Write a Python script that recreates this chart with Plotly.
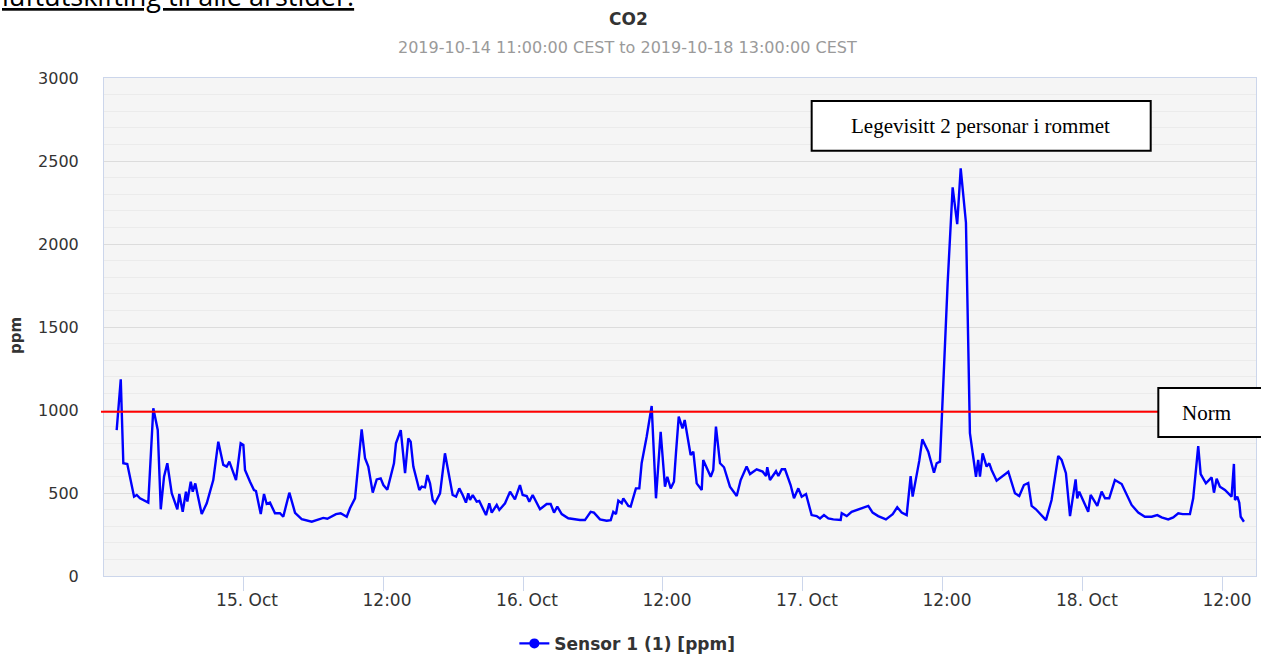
import pandas as pd
import plotly.graph_objects as go

# CO2 readings, hours counted from 2019-10-14 00:00
hours = [13.17, 13.52, 13.74, 14.08, 14.66, 14.89, 15.17, 15.88, 16.31, 16.69, 16.95, 17.23, 17.51, 17.89,
         18.37, 18.54, 18.83, 19.11, 19.23, 19.52, 19.69, 19.91, 20.08, 20.46, 20.89, 21.45, 21.88, 22.31,
         22.60, 22.83, 23.40, 23.80, 24.03, 24.17, 24.60, 24.94, 25.11, 25.52, 25.80, 26.03, 26.31, 26.74,
         27.17, 27.45, 27.97, 28.46, 29.03, 29.89, 30.88, 31.23, 31.97, 32.37, 32.89, 33.17, 33.60, 34.17,
         34.46, 34.74, 35.12, 35.46, 35.80, 36.03, 36.37, 36.75, 36.94, 37.11, 37.52, 37.89, 38.17, 38.37,
         38.60, 39.11, 39.32, 39.60, 39.80, 40.03, 40.26, 40.46, 40.89, 41.31, 41.60, 41.97, 42.26, 42.54,
         42.83, 43.11, 43.31, 43.46, 43.69, 44.03, 44.25, 44.83, 45.11, 45.32, 45.75, 45.97, 46.46, 46.89,
         47.31, 47.74, 47.97, 48.32, 48.54, 48.83, 49.46, 50.03, 50.37, 50.66, 50.94, 51.32, 51.88, 52.88,
         53.31, 53.80, 54.08, 54.60, 55.17, 55.52, 55.74, 55.97, 56.17, 56.46, 56.60, 57.03, 57.23, 57.68,
         57.97, 58.17, 58.60, 59.03, 59.40, 59.80, 60.17, 60.37, 60.66, 60.94, 61.11, 61.35, 61.67, 61.86,
         62.37, 62.60, 62.89, 63.32, 63.45, 64.09, 64.31, 64.54, 64.89, 65.23, 65.74, 66.32, 66.66, 67.17,
         67.46, 68.03, 68.54, 68.83, 68.94, 69.17, 69.69, 69.89, 70.18, 70.46, 70.94, 71.23, 71.60, 71.89,
         72.26, 72.74, 73.17, 73.46, 73.80, 74.17, 74.60, 75.23, 75.32, 75.75, 76.17, 76.82, 77.60, 77.97,
         78.45, 79.11, 79.69, 80.08, 80.46, 80.89, 81.23, 81.40, 81.69, 81.97, 82.23, 82.46, 82.74, 83.23,
         83.46, 83.74, 84.40, 84.83, 85.22, 85.52, 85.97, 86.31, 86.83, 87.02, 87.17, 87.40, 87.74, 87.97,
         88.17, 88.60, 89.60, 90.17, 90.54, 90.94, 91.31, 91.60, 91.97, 92.83, 93.31, 93.88, 94.17, 94.54,
         94.89, 95.37, 95.51, 95.68, 96.08, 96.45, 96.66, 97.03, 97.23, 97.60, 97.89, 98.25, 98.74, 99.32,
         99.75, 100.17, 100.74, 101.31, 101.89, 102.37, 102.74, 103.31, 103.74, 104.17, 104.55, 105.17,
         105.45, 105.88, 106.09, 106.54, 107.03, 107.23, 107.46, 107.74, 108.17, 108.74, 108.94, 109.03,
         109.23, 109.40, 109.52, 109.80]

ppm = [879, 1185, 679, 675, 478, 488, 468, 442, 1010, 880, 402, 598, 679, 498,
       402, 494, 387, 508, 448, 568, 508, 558, 498, 373, 438, 578, 809, 669,
       659, 689, 578, 799, 789, 639, 568, 518, 512, 373, 494, 434, 442, 378,
       378, 357, 502, 381, 343, 327, 350, 345, 373, 378, 357, 408, 468, 883,
       709, 659, 502, 582, 588, 548, 520, 639, 679, 799, 879, 619, 829, 809,
       659, 518, 538, 534, 608, 558, 458, 438, 498, 739, 619, 488, 478, 528,
       488, 442, 498, 458, 488, 448, 452, 367, 438, 382, 428, 398, 438, 508,
       462, 548, 488, 482, 448, 488, 402, 434, 434, 382, 418, 373, 348, 337,
       337, 387, 382, 341, 333, 337, 387, 373, 454, 438, 468, 422, 418, 528,
       528, 679, 839, 1024, 468, 869, 538, 598, 528, 568, 739, 960, 889, 940,
       729, 749, 558, 518, 699, 598, 639, 900, 679, 655, 538, 482, 578, 659,
       614, 643, 629, 602, 655, 578, 631, 602, 643, 643, 548, 468, 528, 478,
       494, 367, 361, 347, 367, 347, 341, 337, 378, 361, 387, 402, 422, 382,
       361, 341, 373, 414, 382, 367, 602, 478, 590, 695, 823, 787, 749, 622,
       679, 689, 1763, 2341, 2120, 2456, 2128, 860, 598, 699, 598, 739, 659, 679,
       639, 574, 628, 498, 482, 548, 560, 422, 402, 337, 458, 723, 699, 619,
       361, 582, 468, 508, 448, 387, 488, 448, 422, 508, 468, 468, 578, 554,
       488, 428, 382, 357, 357, 367, 353, 341, 353, 378, 373, 373,
       468, 783, 614, 558, 594, 502, 586, 538, 518, 478, 675, 458,
       478, 442, 357, 327]

tick_vals = ['2019-10-15 00:00', '2019-10-15 12:00', '2019-10-16 00:00', '2019-10-16 12:00',
             '2019-10-17 00:00', '2019-10-17 12:00', '2019-10-18 00:00', '2019-10-18 12:00']
tick_text = ['15. Oct', '12:00', '16. Oct', '12:00', '17. Oct', '12:00', '18. Oct', '12:00']
y_ticks = [0, 500, 1000, 1500, 2000, 2500, 3000]
norm_level = 990

times = pd.Timestamp('2019-10-14') + pd.to_timedelta(hours, unit='h')

fig = go.Figure()
fig.add_trace(go.Scatter(x=times, y=ppm, mode='lines', line=dict(color='#0000ff', width=2.4),
                         showlegend=False))
# legend entry only (line + marker like the original)
fig.add_trace(go.Scatter(x=[None], y=[None], mode='lines+markers', name='Sensor 1 (1) [ppm]',
                         line=dict(color='#0000ff', width=2.4), marker=dict(color='#0000ff', size=10)))

fig.update_layout(
    width=1261, height=657,
    margin=dict(l=104, r=5, t=78, b=81, autoexpand=False),
    paper_bgcolor='white', plot_bgcolor='#f5f5f5',
    showlegend=True,
    legend=dict(orientation='h', xref='container', yref='container', x=0.4975, xanchor='center',
                y=0.02, yanchor='middle', bgcolor='rgba(0,0,0,0)',
                font=dict(family='DejaVu Sans', size=17, color='#333333', weight='bold'), itemwidth=30),
)
fig.update_xaxes(range=['2019-10-14 12:05', '2019-10-18 14:50'], tickvals=tick_vals, ticktext=tick_text,
                 showgrid=False, zeroline=False, showline=True, linecolor='#ccd6eb', linewidth=1,
                 mirror=True, ticks='outside', ticklen=14, tickcolor='#ccd6eb', ticklabelshift=4,
                 ticklabelstandoff=-5,
                 tickfont=dict(family='DejaVu Sans', size=17, color='#333333'), automargin=False)
fig.update_yaxes(range=[0, 3000], tickvals=y_ticks, showgrid=True, gridcolor='#dcdcdc', gridwidth=1,
                 minor=dict(dtick=100, showgrid=True, gridcolor='#ebebeb', gridwidth=1),
                 zeroline=False, showline=True, linecolor='#ccd6eb', mirror=True,
                 ticks='', ticklabelstandoff=21,
                 tickfont=dict(family='DejaVu Sans', size=16, color='#333333'), automargin=False)

# red norm line and overlay boxes
fig.add_shape(type='line', xref='paper', yref='y', x0=-0.0026, x1=0.9152, y0=norm_level, y1=norm_level,
              line=dict(color='#ff0000', width=2), layer='above')
fig.add_shape(type='rect', xref='paper', yref='paper', x0=0.6143, x1=0.9086, y0=0.854, y1=0.9538,
              fillcolor='white', line=dict(color='black', width=2), layer='above')
fig.add_shape(type='rect', xref='paper', yref='paper', x0=0.9152, x1=1.2, y0=0.2791, y1=0.3775,
              fillcolor='white', line=dict(color='black', width=2), layer='above')

serif = 'Liberation Serif, Times New Roman, serif'
fig.add_annotation(text='Legevisitt 2 personar i rommet', xref='paper', yref='paper', x=0.7608, y=0.9036,
                   xanchor='center', yanchor='middle', showarrow=False,
                   font=dict(family=serif, size=21, color='black'))
fig.add_annotation(text='Norm', xref='paper', yref='paper', x=0.957, y=0.3283,
                   xanchor='center', yanchor='middle', showarrow=False,
                   font=dict(family=serif, size=21, color='black'))

fig.add_annotation(text='<b>CO2</b>', xref='paper', yref='paper', x=0.4549, y=1.1185,
                   xanchor='center', yanchor='middle', showarrow=False,
                   font=dict(family='DejaVu Sans', size=17, color='#333333'))
fig.add_annotation(text='2019-10-14 11:00:00 CEST to 2019-10-18 13:00:00 CEST', xref='paper', yref='paper',
                   x=0.4540, y=1.0622, xanchor='center', yanchor='middle', showarrow=False,
                   font=dict(family='DejaVu Sans', size=16, color='#9a9a9a'))
fig.add_annotation(text='<b>ppm</b>', xref='paper', yref='paper', x=-0.0764, y=0.484, textangle=-90,
                   xanchor='center', yanchor='middle', showarrow=False,
                   font=dict(family='DejaVu Sans', size=15, color='#333333'))

# cut-off document text above the chart (it is cut off in the original as well)
fig.add_annotation(text='<u>luftutskifting til alle årstider.</u>', xref='paper', yref='paper',
                   x=-0.0903, xanchor='left', y=1.1245, yanchor='bottom', showarrow=False,
                   font=dict(family='Open Sans', size=27, color='black'))

fig.write_html("out.html", config={'displayModeBar': False},
               post_script="document.body.style.margin='0';document.body.style.overflow='hidden';")
